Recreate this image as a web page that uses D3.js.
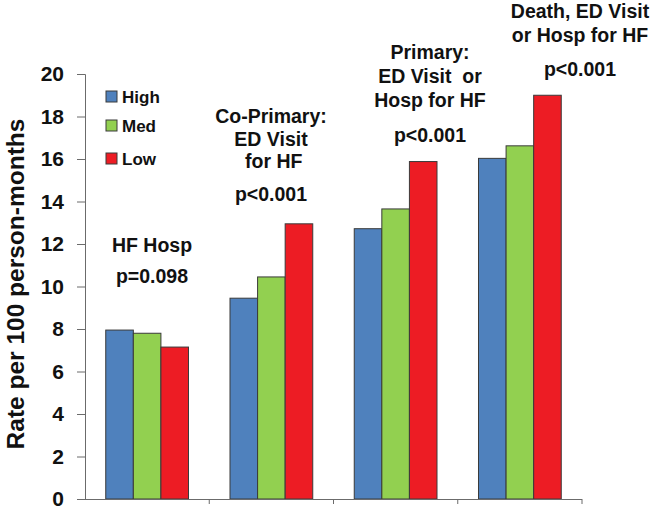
<!DOCTYPE html>
<html>
<head>
<meta charset="utf-8">
<script src="https://cdn.jsdelivr.net/npm/d3@7"></script>
<style>
  html, body { margin: 0; padding: 0; background: #fff; }
  svg { display: block; font-family: "Liberation Sans", Arial, sans-serif; }
</style>
</head>
<body>
<svg id="chart" width="650" height="506"></svg>
<script>
const categories = ["HF Hosp", "Co-Primary", "Primary", "Death"];
const seriesNames = ["High", "Med", "Low"];
const high = [7.95, 9.45, 12.72, 16.03];
const med = [7.8, 10.45, 13.65, 16.62];
const low = [7.15, 12.95, 15.88, 19.0];
const yTicks = [0, 2, 4, 6, 8, 10, 12, 14, 16, 18, 20];
const colors = ["#4F81BD", "#92D050", "#ED1C24"];
const annotations = [
  ["HF Hosp", "p=0.098"],
  ["Co-Primary:", "ED Visit", " for HF", "p<0.001"],
  ["Primary:", "ED Visit  or", "Hosp for HF", "p<0.001"],
  ["Death, ED Visit", "or Hosp for HF", "p<0.001"]
];

const svg = d3.select("#chart");
const mLeft = 85, mRight = 582, mTop = 74, mBottom = 499;

const x = d3.scaleBand().domain(categories).range([mLeft, mRight]).paddingInner(0).paddingOuter(0);
const x1 = d3.scaleBand().domain(seriesNames).range([x.bandwidth() * 0.167, x.bandwidth() * 0.833]).padding(0);
const y = d3.scaleLinear().domain([0, 20]).range([mBottom, mTop]);

const seriesValues = [high, med, low];

// bars
const groups = svg.append("g").selectAll("g").data(categories).join("g")
  .attr("transform", d => `translate(${x(d)},0)`);
groups.selectAll("rect")
  .data((d, i) => seriesNames.map((s, j) => ({ s, v: seriesValues[j][i], j })))
  .join("rect")
  .attr("x", d => x1(d.s))
  .attr("y", d => y(d.v))
  .attr("width", x1.bandwidth())
  .attr("height", d => y(0) - y(d.v))
  .attr("fill", d => colors[d.j])
  .attr("stroke", "#3a3a3a")
  .attr("stroke-width", 1);

// y axis
const yAxis = svg.append("g").attr("transform", `translate(${mLeft},0)`)
  .call(d3.axisLeft(y).tickValues(yTicks).tickSize(8).tickPadding(13).tickFormat(d3.format("d")));
yAxis.select(".domain").attr("stroke", "#6b6b6b");
yAxis.selectAll(".tick line").attr("stroke", "#6b6b6b");
yAxis.selectAll("text").attr("font-size", 21).attr("font-weight", "bold").attr("fill", "#111")
  .attr("font-family", "Liberation Sans, Arial, sans-serif");

// x axis
const xAxis = svg.append("g").attr("transform", `translate(0,${mBottom})`)
  .call(d3.axisBottom(x).tickSize(0).tickFormat(""));
xAxis.select(".domain").attr("stroke", "#6b6b6b").attr("d", `M${mLeft - 8},0.5H${mRight}`);
xAxis.selectAll(".tick").remove();
const bounds = categories.slice(1).map(c => x(c)).concat([mRight]);
xAxis.selectAll("line.bt").data(bounds).join("line").attr("class", "bt")
  .attr("x1", d => d).attr("x2", d => d).attr("y1", 0).attr("y2", 5)
  .attr("stroke", "#6b6b6b");

// y label
svg.append("text")
  .attr("transform", `translate(24,284) rotate(-90)`)
  .attr("text-anchor", "middle")
  .attr("font-size", 24.5).attr("font-weight", "bold").attr("fill", "#111")
  .text("Rate per 100 person-months");

// legend
const legend = svg.append("g").selectAll("g").data(seriesNames).join("g")
  .attr("transform", (d, i) => `translate(106,${[91, 120, 153][i]})`);
legend.append("rect").attr("width", 11).attr("height", 11)
  .attr("fill", (d, i) => colors[i]).attr("stroke", "#3a3a3a");
legend.append("text").attr("x", 16).attr("y", 11.5)
  .attr("font-size", 17).attr("font-weight", "bold").attr("fill", "#111").text(d => d);

// annotations
const baselines = [
  [252, 283],
  [123, 145.5, 168, 201],
  [59, 83, 107, 142],
  [18, 42, 76]
];
const centers = [152, 271, 430, 580];
annotations.forEach((lines, i) => {
  lines.forEach((t, k) => {
    svg.append("text")
      .attr("x", centers[i]).attr("y", baselines[i][k])
      .attr("text-anchor", "middle")
      .attr("font-size", 19.5).attr("font-weight", "bold").attr("fill", "#111")
      .style("white-space", "pre")
      .text(t);
  });
});
</script>
</body>
</html>
